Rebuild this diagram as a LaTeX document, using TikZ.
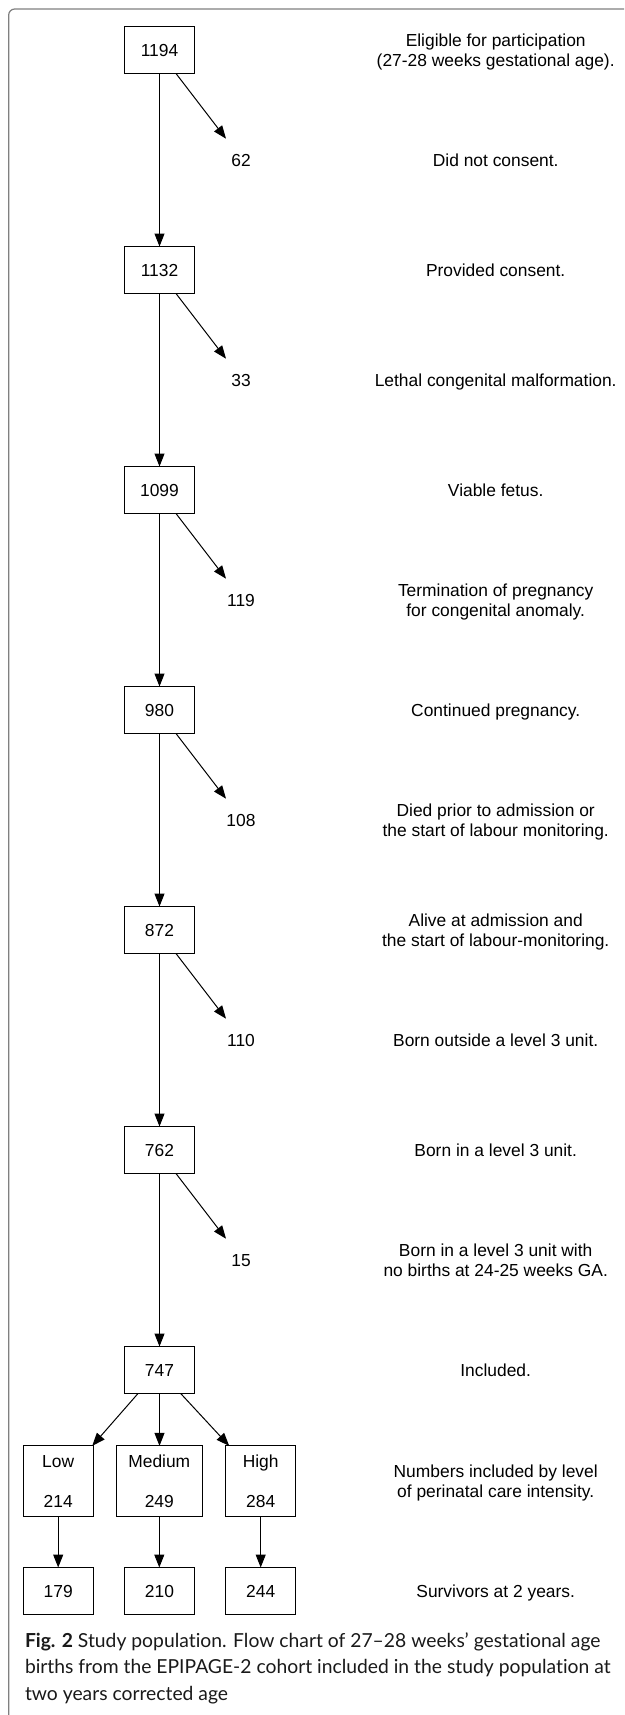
\documentclass[tikz,border=0pt]{standalone}
\usepackage{fontspec}
\setmainfont{Liberation Sans}
\newfontfamily\capfont[Ligatures={NoCommon}]{Lato}
\usetikzlibrary{arrows.meta}
\newcommand\lblfont{\fontsize{17.4}{20}\selectfont}
\newcommand\capsize{\fontsize{19.3}{26.5}\selectfont}
\begin{document}
\begin{tikzpicture}[x=1pt,y=-1pt,
  every node/.style={inner sep=0pt, outer sep=0pt},
  numbox/.style={draw, line width=1pt, minimum width=70pt, minimum height=47pt, font=\lblfont, text depth=0pt, align=center},
  side/.style={font=\lblfont, text depth=0pt},
  lbl/.style={font=\lblfont, align=center, text depth=0pt},
  captxt/.style={font=\capfont\capsize, anchor=base west, text=black!90},
  arr/.style={-{Triangle[length=13pt,width=10pt]}, line width=1pt}]
\useasboundingbox (0,0) rectangle (624,1715);
% frame
\draw[black!50, line width=1.2pt, rounded corners=6pt] (8.7,1715) -- (8.7,9) -- (624,9);
% main column
\node[numbox] (b1) at (159.5,50) {1194};
\node[numbox] (b2) at (159.5,270) {1132};
\node[numbox] (b3) at (159.5,490) {1099};
\node[numbox] (b4) at (159.5,710) {980};
\node[numbox] (b5) at (159.5,930) {872};
\node[numbox] (b6) at (159.5,1150) {762};
\node[numbox] (b7) at (159.5,1370) {747};
% side numbers
\node[side] (n1) at (241,160) {62};
\node[side] (n2) at (241,380) {33};
\node[side] (n3) at (241,600) {119};
\node[side] (n4) at (241,820) {108};
\node[side] (n5) at (241,1040) {110};
\node[side] (n6) at (241,1260) {15};
% level boxes
\node[numbox, minimum height=70.3pt] (lo) at (58.2,1481) {Low\\[20pt]214};
\node[numbox, minimum height=70.3pt, minimum width=86pt] (me) at (159.3,1481) {Medium\\[20pt]249};
\node[numbox, minimum height=70.3pt] (hi) at (260.7,1481) {High\\[20pt]284};
\node[numbox] (s1) at (58.2,1591) {179};
\node[numbox] (s2) at (159.5,1591) {210};
\node[numbox] (s3) at (260.7,1591) {244};
% connectors
\draw[arr] (b1) -- (b2);
\draw[arr] (b2) -- (b3);
\draw[arr] (b3) -- (b4);
\draw[arr] (b4) -- (b5);
\draw[arr] (b5) -- (b6);
\draw[arr] (b6) -- (b7);
\foreach \i in {1,...,6}{
  \draw[arr] ([shift={(16.5,0)}]b\i.south) -- ([shift={(-15,-21.3)}]n\i.center);
}
\draw[arr] ([shift={(-21.5,0)}]b7.south) -- ([shift={(-1,0)}]lo.north east);
\draw[arr] (b7) -- (b7 |- me.north);
\draw[arr] ([shift={(21.2,0)}]b7.south) -- ([shift={(3.5,0)}]hi.north west);
\draw[arr] (lo) -- (s1);
\draw[arr] (me.south) -- (me.south |- s2.north);
\draw[arr] (hi) -- (s3);
% labels
\node[lbl] (l1) at (495.7,50) {Eligible for participation\\(27-28 weeks gestational age).};
\node[lbl] (l2) at (495.7,160) {Did not consent.};
\node[lbl] (l3) at (495.7,270) {Provided consent.};
\node[lbl] (l4) at (495.7,380) {Lethal congenital malformation.};
\node[lbl] (l5) at (495.7,490) {Viable fetus.};
\node[lbl] (l6) at (495.7,600) {Termination of pregnancy\\for congenital anomaly.};
\node[lbl] (l7) at (495.7,710) {Continued pregnancy.};
\node[lbl] (l8) at (495.7,820) {Died prior to admission or\\the start of labour monitoring.};
\node[lbl] (l9) at (495.7,930) {Alive at admission and\\the start of labour-monitoring.};
\node[lbl] (l10) at (495.7,1040) {Born outside a level 3 unit.};
\node[lbl] (l11) at (495.7,1150) {Born in a level 3 unit.};
\node[lbl] (l12) at (495.7,1260) {Born in a level 3 unit with\\no births at 24-25 weeks GA.};
\node[lbl] (l13) at (495.7,1370) {Included.};
\node[lbl] (l14) at (495.7,1481) {Numbers included by level\\of perinatal care intensity.};
\node[lbl] (l15) at (495.7,1591) {Survivors at 2 years.};
% caption
\node[captxt] (c1) at (25,1647) {{\bfseries Fig. 2} Study population. Flow chart of 27–28 weeks’ gestational age};
\node[captxt] (c2) at (25,1673.5) {births from the EPIPAGE-2 cohort included in the study population at};
\node[captxt] (c3) at (25,1700) {two years corrected age};
\end{tikzpicture}
\end{document}
